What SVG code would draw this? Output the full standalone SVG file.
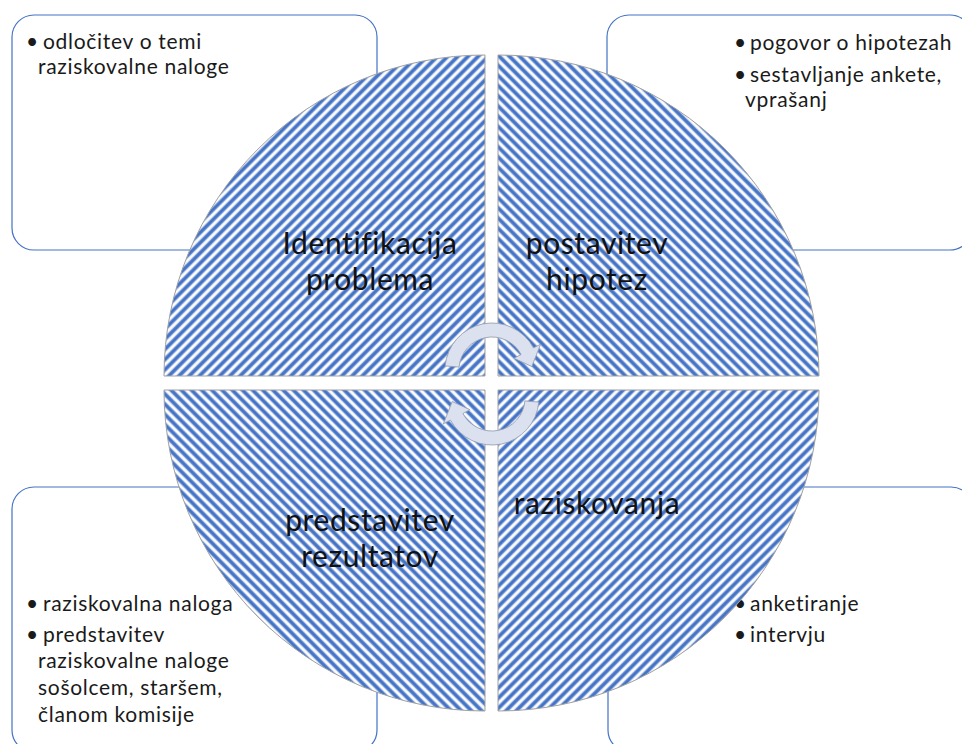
<svg xmlns="http://www.w3.org/2000/svg" width="962" height="744" viewBox="0 0 962 744">
<style>
.box{fill:#fff;stroke:#4472C4;stroke-width:1.2}
.bt{font-family:Lato,"Liberation Sans",sans-serif;font-size:21px;font-weight:400;letter-spacing:0.7px;fill:#1a1a1a}
.lbl{font-family:Lato,"Liberation Sans",sans-serif;font-size:30px;font-weight:400;letter-spacing:0.6px;fill:#111;text-anchor:middle}
.q{stroke:#a0a0a0;stroke-width:1}
.arr{fill:#dbe1ef;stroke:#97a0b3;stroke-width:0.9}
</style>
<defs>
<pattern id="pA" patternUnits="userSpaceOnUse" width="7.2" height="10" patternTransform="rotate(45)">
<rect width="7.2" height="10" fill="#fff"/>
<rect x="1.3" width="4.6" height="10" fill="#a3bbe5"/>
<rect x="2.1" width="3.0" height="10" fill="#4472C4"/>
</pattern>
<pattern id="pB" patternUnits="userSpaceOnUse" width="7.2" height="10" patternTransform="rotate(-45)">
<rect width="7.2" height="10" fill="#fff"/>
<rect x="1.3" width="4.6" height="10" fill="#a3bbe5"/>
<rect x="2.1" width="3.0" height="10" fill="#4472C4"/>
</pattern>
</defs>
<rect width="962" height="744" fill="#fff"/>

<g id="box-tl">
<rect class="box" x="12" y="15" width="365" height="235" rx="22"/>
<text class="bt" x="26" y="49">•</text>
<text class="bt" x="43" y="49">odločitev o temi</text>
<text class="bt" x="38" y="74">raziskovalne naloge</text>
</g>
<g id="box-tr">
<rect class="box" x="607" y="15" width="365" height="235" rx="22"/>
<text class="bt" x="734" y="50">•</text>
<text class="bt" x="750" y="50">pogovor o hipotezah</text>
<text class="bt" x="734" y="82">•</text>
<text class="bt" x="750" y="82">sestavljanje ankete,</text>
<text class="bt" x="745" y="107">vprašanj</text>
</g>
<g id="box-bl">
<rect class="box" x="12" y="487" width="365" height="265" rx="22"/>
<text class="bt" x="26" y="611">•</text>
<text class="bt" x="43" y="611">raziskovalna naloga</text>
<text class="bt" x="26" y="642">•</text>
<text class="bt" x="43" y="642">predstavitev</text>
<text class="bt" x="38" y="668">raziskovalne naloge</text>
<text class="bt" x="38" y="695">sošolcem, staršem,</text>
<text class="bt" x="38" y="722">članom komisije</text>
</g>
<g id="box-br">
<rect class="box" x="608" y="487" width="365" height="265" rx="22"/>
<text class="bt" x="734" y="611">•</text>
<text class="bt" x="750" y="611">anketiranje</text>
<text class="bt" x="734" y="642">•</text>
<text class="bt" x="750" y="642">intervju</text>
</g>

<g id="q-tl">
<path class="q" fill="url(#pA)" d="M485,376 L164,376 A321,321 0 0 1 485,55 Z"/>
<text class="lbl" x="370" y="254">Identifikacija</text>
<text class="lbl" x="370" y="290">problema</text>
</g>
<g id="q-tr">
<path class="q" fill="url(#pB)" d="M498,376 L498,55 A321,321 0 0 1 819,376 Z"/>
<text class="lbl" x="597" y="254">postavitev</text>
<text class="lbl" x="597" y="290">hipotez</text>
</g>
<g id="q-br">
<path class="q" fill="url(#pA)" d="M498,390 L819,390 A321,321 0 0 1 498,711 Z"/>
<text class="lbl" x="597" y="514">raziskovanja</text>
</g>
<g id="q-bl">
<path class="q" fill="url(#pB)" d="M485,390 L485,711 A321,321 0 0 1 164,390 Z"/>
<text class="lbl" x="370" y="531">predstavitev</text>
<text class="lbl" x="370" y="567">rezultatov</text>
</g>

<g id="connectors">
<path class="arr" d="M445.2,365.9 A47,47 0 0 1 533.5,347.9 L540.6,344.2 L531.8,366.5 L514.1,358.3 L521.1,354.5 A33,33 0 0 0 459.1,367.1 Z"/>
<path class="arr" transform="rotate(180 492 384)" d="M445.2,365.9 A47,47 0 0 1 533.5,347.9 L540.6,344.2 L531.8,366.5 L514.1,358.3 L521.1,354.5 A33,33 0 0 0 459.1,367.1 Z"/>
</g>
</svg>
